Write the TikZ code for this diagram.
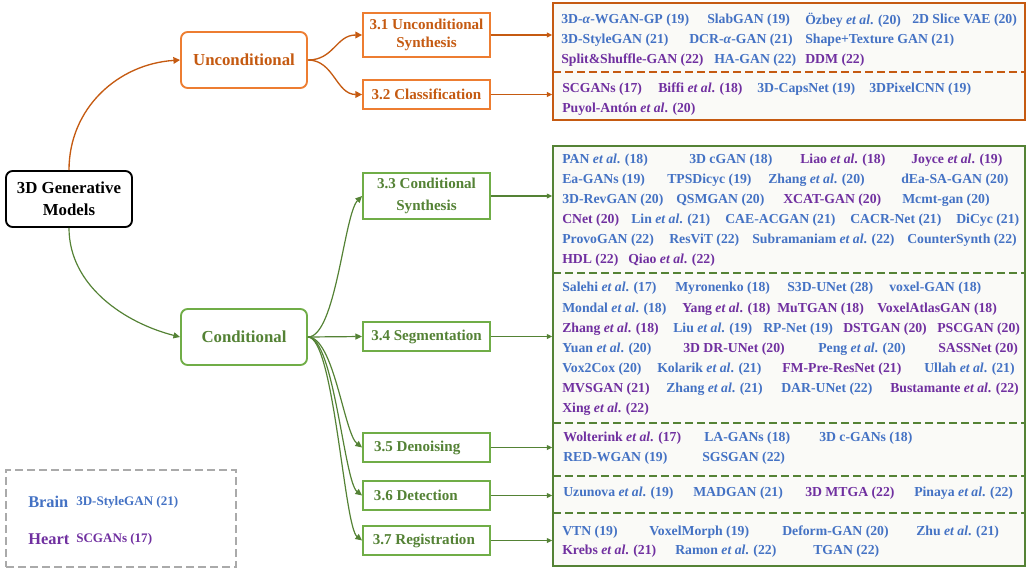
\documentclass[tikz,border=0pt]{standalone}
\usepackage{fontspec}
\setmainfont{Liberation Serif}
\usetikzlibrary{arrows.meta}
\definecolor{ob}{HTML}{ED7D31}
\definecolor{ot}{HTML}{C55A11}
\definecolor{gb}{HTML}{70AD47}
\definecolor{gt}{HTML}{548235}
\definecolor{bl}{HTML}{4472C4}
\definecolor{pu}{HTML}{7030A0}
\definecolor{pfill}{RGB}{250,250,247}
\newcommand\EtAl{\textit{et al}.}
\newcommand\ent[5]{\node[ent,text=#4] (#1) at (#2,#3) {#5};}
\begin{document}
\begin{tikzpicture}[x=0.75pt,y=-0.75pt,
  ent/.style={anchor=west,inner sep=0pt,font=\bfseries\fontsize{10.3}{12}\selectfont},
  mainbox/.style={draw,rounded corners=5pt,line width=1.4pt,fill=white,minimum width=94.5pt,minimum height=42pt,align=center,font=\bfseries\fontsize{12.6}{16.5}\selectfont},
  secbox/.style={draw,line width=1.4pt,fill=white,minimum width=95.25pt,align=center,font=\bfseries\fontsize{11.3}{13.5}\selectfont},
  panel/.style={draw,line width=1.1pt,fill=pfill,minimum width=354pt},
  divider/.style={line width=1.1pt,dash pattern=on 6pt off 3pt},
  oarr/.style={draw=ot,line width=1pt,-{Triangle[length=5pt,width=5pt]}},
  garr/.style={draw=gt,line width=0.9pt,-{Triangle[length=5pt,width=4.5pt]}},
  opar/.style={draw=ot,line width=1pt,-{Triangle[length=4pt,width=3.5pt]}},
  gpar/.style={draw=gt,line width=0.9pt,-{Triangle[length=4pt,width=3.5pt]}},
]
\useasboundingbox (0,0) rectangle (1028,568);

% main boxes
\node[mainbox,draw=black,text=black] (root) at (69,199) {3D Generative\\Models};
\node[mainbox,draw=ob,text=ot] (unc) at (244,60) {Unconditional};
\node[mainbox,draw=gb,text=gt] (cond) at (244,337) {Conditional};

% section boxes
\node[secbox,draw=ob,text=ot,minimum height=33pt] (s31) at (426.5,35) {3.1 Unconditional\\Synthesis};
\node[secbox,draw=ob,text=ot,minimum height=21.75pt] (s32) at (426.5,94.5) {3.2 Classification};
\node[secbox,draw=gb,text=gt,minimum height=34.5pt,font=\bfseries\fontsize{11.3}{16}\selectfont] (s33) at (426.5,196) {3.3 Conditional\\Synthesis};
\node[secbox,draw=gb,text=gt,minimum height=21.75pt] (s34) at (426.5,336.5) {3.4 Segmentation};
\node[secbox,draw=gb,text=gt,minimum height=21.75pt] (s35) at (426.5,447.5) {3.5 Denoising\hspace*{14pt}};
\node[secbox,draw=gb,text=gt,minimum height=21.75pt] (s36) at (426.5,495.5) {3.6 Detection\hspace*{16pt}};
\node[secbox,draw=gb,text=gt,minimum height=21.75pt] (s37) at (426.5,540.5) {3.7 Registration\hspace*{4pt}};

% panels
\node[panel,draw=ot,minimum height=87.75pt] (p1) at (789,61.5) {};
\node[panel,draw=gt,minimum height=315pt] (p2) at (789,356) {};
\coordinate (d1l) at (553,72); \coordinate (d1r) at (1025,72);
\draw[divider,draw=ot] (d1l) -- (d1r);
\foreach \yy/\nm in {273/a,423/b,476/c,513/d}{
  \coordinate (gl\nm) at (553,\yy); \coordinate (gr\nm) at (1025,\yy);
  \draw[divider,draw=gt] (gl\nm) -- (gr\nm);
}

% legend
\node[draw={rgb,255:red,170;green,170;blue,170},line width=1pt,dash pattern=on 6pt off 3pt,minimum width=172.5pt,minimum height=72.75pt] (leg) at (121,518.5) {};
\node[anchor=west,inner sep=0pt,text=bl,font=\bfseries\fontsize{12.3}{14}\selectfont] (lb) at (28,502) {Brain};
\node[anchor=west,inner sep=0pt,text=bl,font=\bfseries\fontsize{9.8}{11}\selectfont] (lbe) at (76,502) {3D-StyleGAN (21)};
\node[anchor=west,inner sep=0pt,text=pu,font=\bfseries\fontsize{12.3}{14}\selectfont] (lh) at (28,539) {Heart};
\node[anchor=west,inner sep=0pt,text=pu,font=\bfseries\fontsize{9.8}{11}\selectfont] (lhe) at (76,539) {SCGANs (17)};

% connectors
\draw[oarr] (root.north) .. controls +(0,-62) and +(-62,4) .. (unc.west);
\draw[garr] (root.south) .. controls +(0,58) and +(-55,-14) .. (cond.west);
\draw[oarr] (unc.east) .. controls +(26,0) and +(-26,0) .. (s31.west);
\draw[oarr] (unc.east) .. controls +(26,0) and +(-26,0) .. (s32.west);
\draw[garr] (cond.east) .. controls +(28,0) and +(-18,18) .. (s33.west);
\draw[garr] (cond.east) -- (s34.west);
\draw[garr] (cond.east) .. controls +(26,0) and +(-18,-14) .. (s35.west);
\draw[garr] (cond.east) .. controls +(26,0) and +(-18,-14) .. (s36.west);
\draw[garr] (cond.east) .. controls +(26,0) and +(-18,-14) .. (s37.west);

\draw[opar] (s31.east) -- (s31.east -| p1.west);
\draw[opar] (s32.east) -- (s32.east -| p1.west);
\draw[gpar] (s33.east) -- (s33.east -| p2.west);
\draw[gpar] (s34.east) -- (s34.east -| p2.west);
\draw[gpar] (s35.east) -- (s35.east -| p2.west);
\draw[gpar] (s36.east) -- (s36.east -| p2.west);
\draw[gpar] (s37.east) -- (s37.east -| p2.west);

% unconditional synthesis
\ent{u1}{561}{20}{bl}{3D-\textit{α}-WGAN-GP (19)}
\ent{u2}{707}{20}{bl}{SlabGAN (19)}
\ent{u3}{805}{20}{bl}{Özbey \EtAl{} (20)}
\ent{u4}{912}{20}{bl}{2D Slice VAE (20)}
\ent{u5}{561}{40}{bl}{3D-StyleGAN (21)}
\ent{u6}{689}{40}{bl}{DCR-\textit{α}-GAN (21)}
\ent{u7}{805}{40}{bl}{Shape+Texture GAN (21)}
\ent{u8}{561}{60}{pu}{Split\&Shuffle-GAN (22)}
\ent{u9}{714}{60}{bl}{HA-GAN (22)}
\ent{u10}{805}{60}{pu}{DDM (22)}
% classification
\ent{c1}{562}{89}{pu}{SCGANs (17)}
\ent{c2}{658}{89}{pu}{Biffi \EtAl{} (18)}
\ent{c3}{757}{89}{bl}{3D-CapsNet (19)}
\ent{c4}{869}{89}{bl}{3DPixelCNN (19)}
\ent{c5}{562}{109}{pu}{Puyol-Antón \EtAl{} (20)}
% conditional synthesis
\ent{s1}{562}{160}{bl}{PAN \EtAl{} (18)}
\ent{s2}{689}{160}{bl}{3D cGAN (18)}
\ent{s3}{800}{160}{pu}{Liao \EtAl{} (18)}
\ent{s4}{911}{160}{pu}{Joyce \EtAl{} (19)}
\ent{s5}{562}{180}{bl}{Ea-GANs (19)}
\ent{s6}{667}{180}{bl}{TPSDicyc (19)}
\ent{s7}{768}{180}{bl}{Zhang \EtAl{} (20)}
\ent{s8}{901}{180}{bl}{dEa-SA-GAN (20)}
\ent{s9}{562}{200}{bl}{3D-RevGAN (20)}
\ent{s10}{676}{200}{bl}{QSMGAN (20)}
\ent{s11}{783}{200}{pu}{XCAT-GAN (20)}
\ent{s12}{902}{200}{bl}{Mcmt-gan (20)}
\ent{s13}{562}{220}{pu}{CNet (20)}
\ent{s14}{631}{220}{bl}{Lin \EtAl{} (21)}
\ent{s15}{725}{220}{bl}{CAE-ACGAN (21)}
\ent{s16}{850}{220}{bl}{CACR-Net (21)}
\ent{s17}{956}{220}{bl}{DiCyc (21)}
\ent{s18}{562}{240}{bl}{ProvoGAN (22)}
\ent{s19}{669}{240}{bl}{ResViT (22)}
\ent{s20}{752}{240}{bl}{Subramaniam \EtAl{} (22)}
\ent{s21}{907}{240}{bl}{CounterSynth (22)}
\ent{s22}{562}{260}{pu}{HDL (22)}
\ent{s23}{628}{260}{pu}{Qiao \EtAl{} (22)}
% segmentation
\ent{g1}{562}{288}{bl}{Salehi \EtAl{} (17)}
\ent{g2}{675}{288}{bl}{Myronenko (18)}
\ent{g3}{787}{288}{bl}{S3D-UNet (28)}
\ent{g4}{889}{288}{bl}{voxel-GAN (18)}
\ent{g5}{562}{309}{bl}{Mondal \EtAl{} (18)}
\ent{g6}{682}{309}{pu}{Yang \EtAl{} (18)}
\ent{g7}{777}{309}{pu}{MuTGAN (18)}
\ent{g8}{877}{309}{pu}{VoxelAtlasGAN (18)}
\ent{g9}{562}{329}{pu}{Zhang \EtAl{} (18)}
\ent{g10}{673}{329}{bl}{Liu \EtAl{} (19)}
\ent{g11}{763}{329}{bl}{RP-Net (19)}
\ent{g12}{843}{329}{pu}{DSTGAN (20)}
\ent{g13}{937}{329}{pu}{PSCGAN (20)}
\ent{g14}{562}{349}{bl}{Yuan \EtAl{} (20)}
\ent{g15}{683}{349}{pu}{3D DR-UNet (20)}
\ent{g16}{818}{349}{bl}{Peng \EtAl{} (20)}
\ent{g17}{938}{349}{pu}{SASSNet (20)}
\ent{g18}{562}{369}{bl}{Vox2Cox (20)}
\ent{g19}{657}{369}{bl}{Kolarik \EtAl{} (21)}
\ent{g20}{782}{369}{pu}{FM-Pre-ResNet (21)}
\ent{g21}{924}{369}{bl}{Ullah \EtAl{} (21)}
\ent{g22}{562}{389}{pu}{MVSGAN (21)}
\ent{g23}{666}{389}{bl}{Zhang \EtAl{} (21)}
\ent{g24}{781}{389}{bl}{DAR-UNet (22)}
\ent{g25}{890}{389}{pu}{Bustamante \EtAl{} (22)}
\ent{g26}{562}{409}{pu}{Xing \EtAl{} (22)}
% denoising
\ent{d1}{563}{438}{pu}{Wolterink \EtAl{} (17)}
\ent{d2}{704}{438}{bl}{LA-GANs (18)}
\ent{d3}{819}{438}{bl}{3D c-GANs (18)}
\ent{d4}{563}{458}{bl}{RED-WGAN (19)}
\ent{d5}{702}{458}{bl}{SGSGAN (22)}
% detection
\ent{t1}{563}{493}{bl}{Uzunova \EtAl{} (19)}
\ent{t2}{693}{493}{bl}{MADGAN (21)}
\ent{t3}{805}{493}{pu}{3D MTGA (22)}
\ent{t4}{914}{493}{bl}{Pinaya \EtAl{} (22)}
% registration
\ent{r1}{562}{532}{bl}{VTN (19)}
\ent{r2}{649}{532}{bl}{VoxelMorph (19)}
\ent{r3}{782}{532}{bl}{Deform-GAN (20)}
\ent{r4}{916}{532}{bl}{Zhu \EtAl{} (21)}
\ent{r5}{562}{551}{pu}{Krebs \EtAl{} (21)}
\ent{r6}{675}{551}{bl}{Ramon \EtAl{} (22)}
\ent{r7}{813}{551}{bl}{TGAN (22)}
\end{tikzpicture}
\end{document}
